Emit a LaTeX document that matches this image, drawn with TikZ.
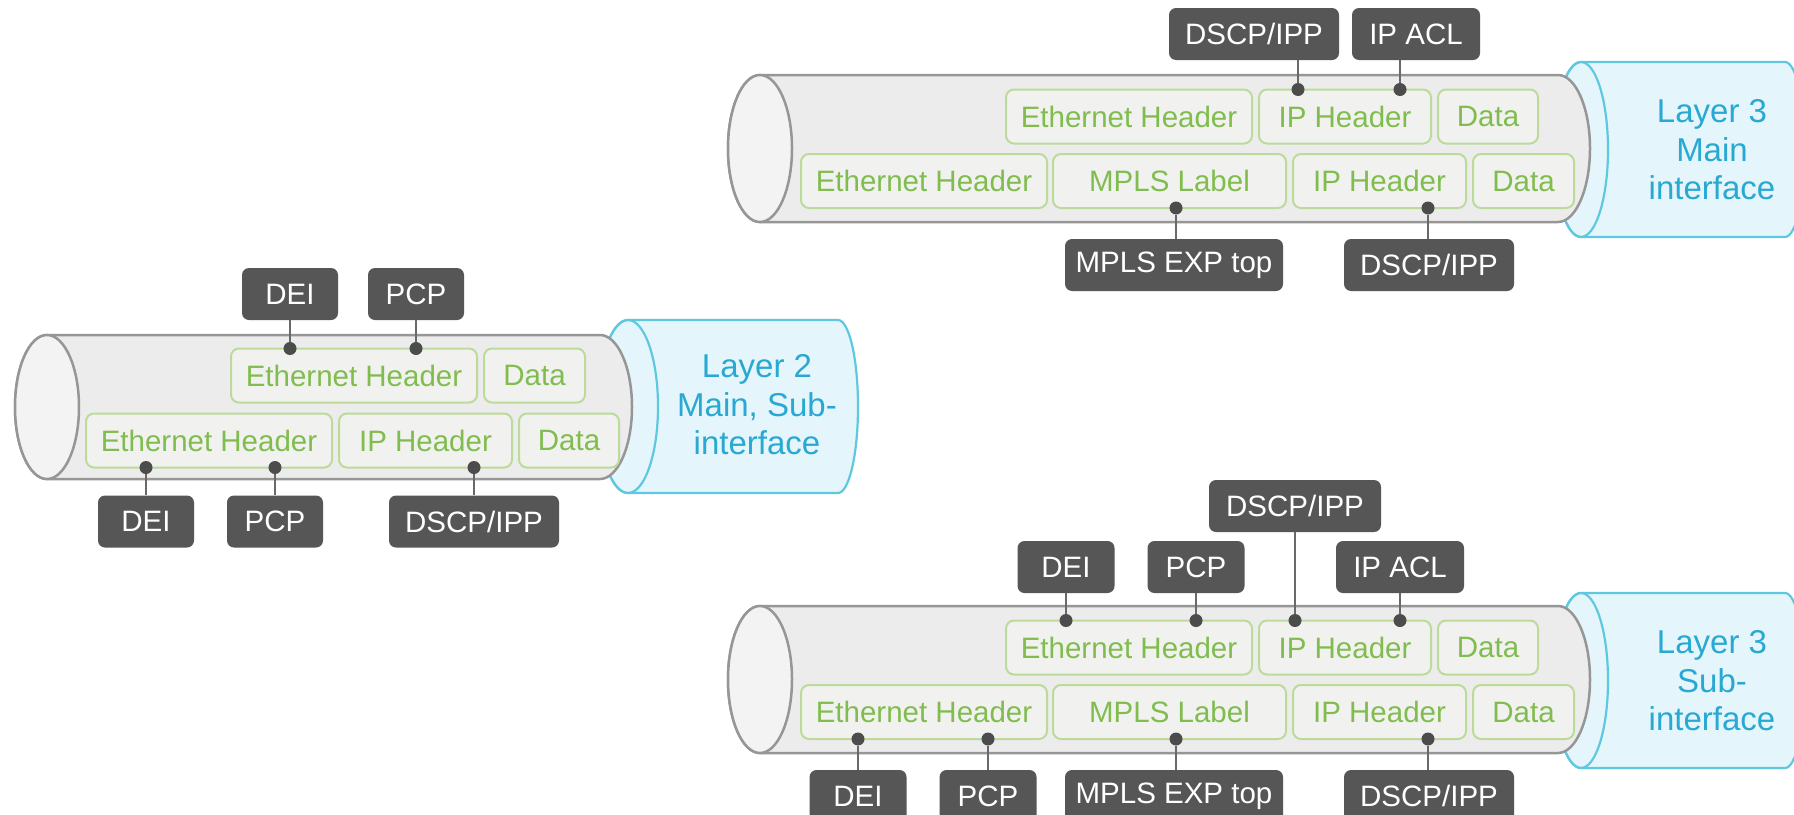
\documentclass[tikz,border=0pt]{standalone}
\usepackage{fontspec}
\setmainfont{Liberation Sans}

% palette
\definecolor{tubefill}{RGB}{236,236,236}
\definecolor{tubeend}{RGB}{243,243,243}
\definecolor{tubeline}{RGB}{150,150,150}
\definecolor{capfill}{RGB}{228,246,251}
\definecolor{capline}{RGB}{95,200,225}
\definecolor{hdrfill}{RGB}{241,242,239}
\definecolor{hdrline}{RGB}{188,219,155}
\definecolor{hdrtext}{RGB}{128,188,78}
\definecolor{tagfill}{RGB}{86,86,86}
\definecolor{pincol}{RGB}{76,76,76}
\definecolor{linkcol}{RGB}{105,105,105}
\definecolor{ifcol}{RGB}{40,168,210}

\newcommand\hdrfont{\fontsize{29.5}{31}\selectfont}
\newcommand\tagfont{\fontsize{29.5}{31}\selectfont}
\newcommand\iffont{\fontsize{33}{38.5}\selectfont}

% gray pipe: left centre x, right centre x, centre y, half height, end radius
\newcommand\pipebody[5]{%
  \filldraw[line width=2.5pt, draw=tubeline, fill=tubefill]
    (#1,#3-#4) -- (#2,#3-#4)
    arc[start angle=-90, end angle=90, x radius=#5, y radius=#4]
    -- (#1,#3+#4)
    arc[start angle=90, end angle=270, x radius=#5, y radius=#4] -- cycle;
  \filldraw[line width=2.5pt, draw=tubeline, fill=tubeend]
    (#1,#3) ellipse[x radius=#5, y radius=#4];
}
% cyan interface sleeve: left centre x, right centre x, centre y, half height, left radius, right radius
\newcommand\sleeve[6]{%
  \filldraw[line width=2.2pt, draw=capline, fill=capfill]
    (#1,#3-#4) -- (#2,#3-#4)
    arc[start angle=-90, end angle=90, x radius=#6, y radius=#4]
    -- (#1,#3+#4)
    arc[start angle=90, end angle=270, x radius=#5, y radius=#4] -- cycle;
  \draw[line width=2.2pt, draw=capline]
    (#1,#3) ellipse[x radius=#5, y radius=#4];
}

\tikzset{
  hdr/.style={draw=hdrline, fill=hdrfill, line width=2pt, rounded corners=8pt,
    text=hdrtext, font=\hdrfont, minimum height=54pt, inner sep=0pt},
  tag/.style={fill=tagfill, rounded corners=7pt, text=white, font=\tagfont,
    minimum height=52pt, inner sep=0pt},
  pin/.style={circle, fill=pincol, minimum size=13pt, inner sep=0pt},
  link/.style={draw=linkcol, line width=1.6pt},
  iflabel/.style={text=ifcol, font=\iffont, align=center, inner sep=0pt},
}

\begin{document}
\begin{tikzpicture}[x=1pt, y=-1pt]
\useasboundingbox (0,0) rectangle (1794,814);
\clip (0,0) rectangle (1794,814);
\fill[white] (0,0) rectangle (1794,814);

%% ---------------- Layer 2: main and sub-interface ----------------
\sleeve{628}{838}{406.5}{86.5}{30}{20}
\pipebody{47}{600}{407}{72}{32}

\node[hdr, minimum width=246pt] (l2eth1)  at (354,375.5) {Ethernet Header};
\node[hdr, minimum width=101pt] (l2data1) at (534.5,375.5) {Data};
\node[hdr, minimum width=246pt] (l2eth2)  at (209,440.5) {Ethernet Header};
\node[hdr, minimum width=173pt] (l2ip2)   at (425.5,440.5) {IP Header};
\node[hdr, minimum width=100pt] (l2data2) at (569,440.5) {Data};

\node[tag, minimum width=96pt]  (l2dei1)  at (290,294) {DEI};
\node[tag, minimum width=96pt]  (l2pcp1)  at (416,294) {PCP};
\node[tag, minimum width=96pt]  (l2dei2)  at (146,521.5) {DEI};
\node[tag, minimum width=96pt]  (l2pcp2)  at (275,521.5) {PCP};
\node[tag, minimum width=170pt] (l2dscp2) at (474,521.5) {DSCP/IPP};

\node[pin] (l2a) at (290,348.5) {};
\node[pin] (l2b) at (416,348.5) {};
\node[pin] (l2c) at (146,467.5) {};
\node[pin] (l2d) at (275,467.5) {};
\node[pin] (l2e) at (474,467.5) {};

\draw[link] (l2a) -- (l2a |- l2dei1.south);
\draw[link] (l2b) -- (l2b |- l2pcp1.south);
\draw[link] (l2c) -- (l2c |- l2dei2.north);
\draw[link] (l2d) -- (l2d |- l2pcp2.north);
\draw[link] (l2e) -- (l2e |- l2dscp2.north);

\node[iflabel] (l2name) at (757,405) {Layer 2\\Main, Sub-\\interface};

%% ---------------- Layer 3: main interface ----------------
\sleeve{1581}{1785}{149.5}{87.5}{27}{20}
\pipebody{760}{1558}{148.5}{73.5}{32}

\node[hdr, minimum width=246pt] (m3eth1)  at (1129,116.5) {Ethernet Header};
\node[hdr, minimum width=172pt] (m3ip1)   at (1345,116.5) {IP Header};
\node[hdr, minimum width=100pt] (m3data1) at (1488,116.5) {Data};
\node[hdr, minimum width=246pt] (m3eth2)  at (924,181) {Ethernet Header};
\node[hdr, minimum width=233pt] (m3mpls2) at (1169.5,181) {MPLS Label};
\node[hdr, minimum width=173pt] (m3ip2)   at (1379.5,181) {IP Header};
\node[hdr, minimum width=101pt] (m3data2) at (1523.5,181) {Data};

\node[tag, minimum width=170pt] (m3dscp1) at (1254,34) {DSCP/IPP};
\node[tag, minimum width=128pt] (m3acl1)  at (1416,34) {IP ACL};
\node[tag, minimum width=218pt] (m3exp2)  at (1174,265) {MPLS EXP top};
\node[tag, minimum width=170pt] (m3dscp2) at (1429,265) {DSCP/IPP};

\node[pin] (m3a) at (1298,89.5) {};
\node[pin] (m3b) at (1400,89.5) {};
\node[pin] (m3c) at (1176,208) {};
\node[pin] (m3d) at (1428,208) {};

\draw[link] (m3a) -- (m3a |- m3dscp1.south);
\draw[link] (m3b) -- (m3b |- m3acl1.south);
\draw[link] (m3c) -- (m3c |- m3exp2.north);
\draw[link] (m3d) -- (m3d |- m3dscp2.north);

\node[iflabel] (m3name) at (1712,150) {Layer 3\\Main\\interface};

%% ---------------- Layer 3: sub-interface ----------------
\sleeve{1581}{1785}{680.5}{87.5}{27}{20}
\pipebody{760}{1558}{679.5}{73.5}{32}

\node[hdr, minimum width=246pt] (s3eth1)  at (1129,647.5) {Ethernet Header};
\node[hdr, minimum width=172pt] (s3ip1)   at (1345,647.5) {IP Header};
\node[hdr, minimum width=100pt] (s3data1) at (1488,647.5) {Data};
\node[hdr, minimum width=246pt] (s3eth2)  at (924,712) {Ethernet Header};
\node[hdr, minimum width=233pt] (s3mpls2) at (1169.5,712) {MPLS Label};
\node[hdr, minimum width=173pt] (s3ip2)   at (1379.5,712) {IP Header};
\node[hdr, minimum width=101pt] (s3data2) at (1523.5,712) {Data};

\node[tag, minimum width=172pt] (s3dscp1) at (1295,506) {DSCP/IPP};
\node[tag, minimum width=97pt]  (s3dei1)  at (1066,567) {DEI};
\node[tag, minimum width=97pt]  (s3pcp1)  at (1196,567) {PCP};
\node[tag, minimum width=128pt] (s3acl1)  at (1400,567) {IP ACL};
\node[tag, minimum width=97pt]  (s3dei2)  at (858,796) {DEI};
\node[tag, minimum width=97pt]  (s3pcp2)  at (988,796) {PCP};
\node[tag, minimum width=218pt] (s3exp2)  at (1174,796) {MPLS EXP top};
\node[tag, minimum width=170pt] (s3dscp2) at (1429,796) {DSCP/IPP};

\node[pin] (s3a) at (1066,620.5) {};
\node[pin] (s3b) at (1196,620.5) {};
\node[pin] (s3c) at (1295,620.5) {};
\node[pin] (s3d) at (1400,620.5) {};
\node[pin] (s3e) at (858,739) {};
\node[pin] (s3f) at (988,739) {};
\node[pin] (s3g) at (1176,739) {};
\node[pin] (s3h) at (1428,739) {};

\draw[link] (s3a) -- (s3a |- s3dei1.south);
\draw[link] (s3b) -- (s3b |- s3pcp1.south);
\draw[link] (s3c) -- (s3c |- s3dscp1.south);
\draw[link] (s3d) -- (s3d |- s3acl1.south);
\draw[link] (s3e) -- (s3e |- s3dei2.north);
\draw[link] (s3f) -- (s3f |- s3pcp2.north);
\draw[link] (s3g) -- (s3g |- s3exp2.north);
\draw[link] (s3h) -- (s3h |- s3dscp2.north);

\node[iflabel] (s3name) at (1712,681) {Layer 3\\Sub-\\interface};
\end{tikzpicture}
\end{document}
